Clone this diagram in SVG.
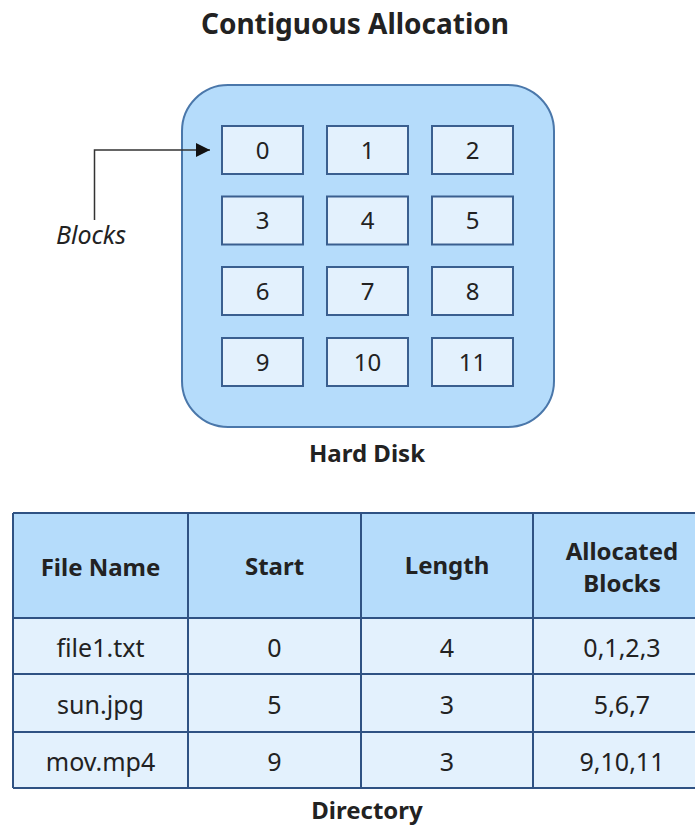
<svg xmlns="http://www.w3.org/2000/svg" width="695" height="827" viewBox="0 0 695 827">
  <style>
    text { font-family: "Noto Sans", "Open Sans", sans-serif; fill: #222; text-anchor: middle; }
    .title { font-size: 28px; font-weight: bold; }
    .caption { font-size: 24px; font-weight: bold; }
    .blk rect { fill: #e3f1fd; stroke: #3a5f8f; stroke-width: 2; }
    .blk text { font-size: 24px; }
    .disk { fill: #b5dcfb; stroke: #4a77aa; stroke-width: 2; }
    .hdr { fill: #b5dcfb; }
    .row { fill: #e3f1fd; }
    .grid { stroke: #2f5283; stroke-width: 2; fill: none; }
    .th { font-size: 24px; font-weight: bold; }
    .td { font-size: 25px; }
    .label { font-size: 25px; font-style: italic; text-anchor: start; }
    .conn { stroke: #333; stroke-width: 1.5; fill: none; }
  </style>
  <defs>
    <marker id="arrowBig" viewBox="0 0 14 14" refX="14" refY="7" markerWidth="14" markerHeight="14" markerUnits="userSpaceOnUse" orient="auto">
      <path d="M0,0 L14,7 L0,14 z" fill="#111"/>
    </marker>
  </defs>

  <text class="title" x="355" y="34">Contiguous Allocation</text>

  <!-- hard disk -->
  <g id="hard-disk">
    <rect class="disk" x="182" y="85" width="372" height="342" rx="46" ry="46"/>
    <text class="caption" x="367" y="462">Hard Disk</text>
  </g>

  <!-- blocks -->
  <g id="block-0" class="blk"><rect x="222" y="126" width="81" height="48"/><text x="262.5" y="158.5">0</text></g>
  <g id="block-1" class="blk"><rect x="327" y="126" width="81" height="48"/><text x="367.5" y="158.5">1</text></g>
  <g id="block-2" class="blk"><rect x="432" y="126" width="81" height="48"/><text x="472.5" y="158.5">2</text></g>
  <g id="block-3" class="blk"><rect x="222" y="196.5" width="81" height="48"/><text x="262.5" y="229">3</text></g>
  <g id="block-4" class="blk"><rect x="327" y="196.5" width="81" height="48"/><text x="367.5" y="229">4</text></g>
  <g id="block-5" class="blk"><rect x="432" y="196.5" width="81" height="48"/><text x="472.5" y="229">5</text></g>
  <g id="block-6" class="blk"><rect x="222" y="267" width="81" height="48"/><text x="262.5" y="299.5">6</text></g>
  <g id="block-7" class="blk"><rect x="327" y="267" width="81" height="48"/><text x="367.5" y="299.5">7</text></g>
  <g id="block-8" class="blk"><rect x="432" y="267" width="81" height="48"/><text x="472.5" y="299.5">8</text></g>
  <g id="block-9" class="blk"><rect x="222" y="338" width="81" height="48"/><text x="262.5" y="370.5">9</text></g>
  <g id="block-10" class="blk"><rect x="327" y="338" width="81" height="48"/><text x="367.5" y="370.5">10</text></g>
  <g id="block-11" class="blk"><rect x="432" y="338" width="81" height="48"/><text x="472.5" y="370.5">11</text></g>

  <!-- label -->
  <g id="blocks-label">
    <text class="label" x="56" y="244">Blocks</text>
  </g>

  <!-- connectors -->
  <g id="connectors">
    <path class="conn" d="M94.5,220 V150 H210" marker-end="url(#arrowBig)"/>
  </g>

  <!-- directory table -->
  <g id="directory">
    <rect class="hdr" x="13" y="513" width="700" height="105"/>
    <rect class="row" x="13" y="618" width="700" height="170"/>
    <path class="grid" d="M13,513 H713 M13,618 H713 M13,674 H713 M13,732 H713 M13,788 H713 M13,513 V788 M188,513 V788 M361,513 V788 M533,513 V788"/>
    <text class="th" x="100.5" y="576">File Name</text>
    <text class="th" x="274.5" y="575">Start</text>
    <text class="th" x="447" y="574">Length</text>
    <text class="th" x="622" y="560">Allocated</text>
    <text class="th" x="622" y="592">Blocks</text>

    <text class="td" x="100.5" y="657">file1.txt</text>
    <text class="td" x="274.5" y="657">0</text>
    <text class="td" x="447" y="657">4</text>
    <text class="td" x="622" y="657">0,1,2,3</text>

    <text class="td" x="100.5" y="714">sun.jpg</text>
    <text class="td" x="274.5" y="714">5</text>
    <text class="td" x="447" y="714">3</text>
    <text class="td" x="622" y="714">5,6,7</text>

    <text class="td" x="100.5" y="771">mov.mp4</text>
    <text class="td" x="274.5" y="771">9</text>
    <text class="td" x="447" y="771">3</text>
    <text class="td" x="622" y="771">9,10,11</text>

    <text class="caption" x="367" y="819">Directory</text>
  </g>
</svg>
